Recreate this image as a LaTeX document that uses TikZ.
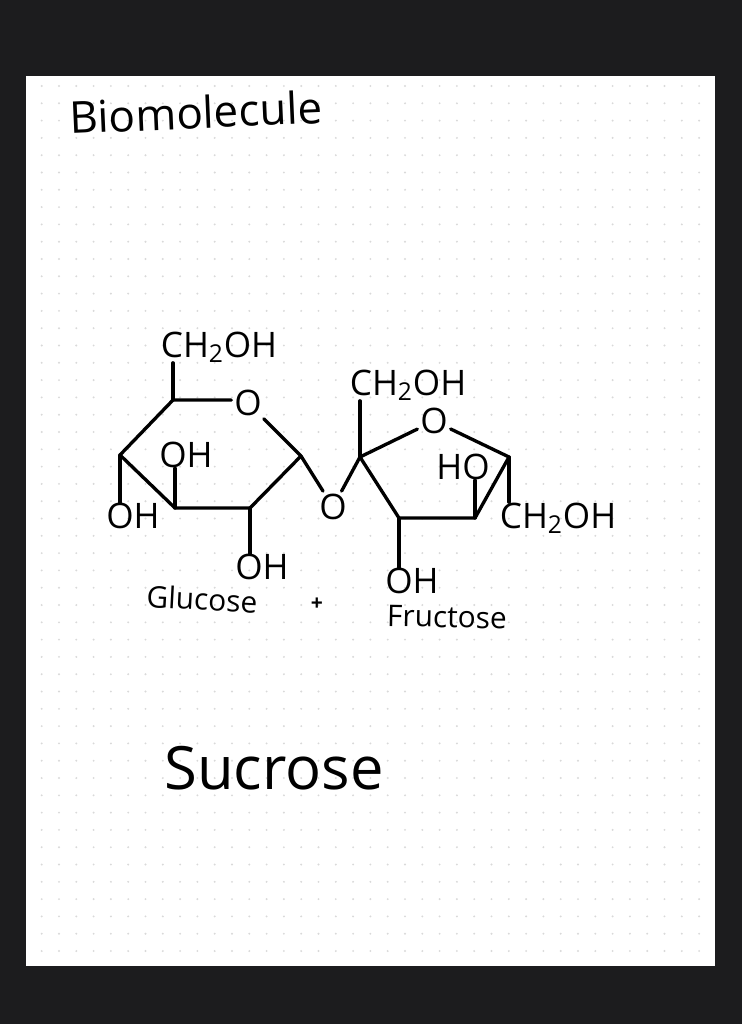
\documentclass[tikz,border=0pt]{standalone}
\usepackage{fontspec}
\setmainfont{Open Sans}
\definecolor{pagedark}{HTML}{1C1C1E}
\tikzset{
  bond/.style={line width=1.9pt, line cap=round, line join=round},
  group/.style={inner sep=0pt, font=\fontsize{20}{24}\selectfont},
  oxygen/.style={inner sep=1.5pt, font=\fontsize{20}{24}\selectfont},
  sugar/.style={inner sep=0pt, font=\fontsize{17}{20}\selectfont},
}
\begin{document}
\begin{tikzpicture}[x=0.02cm,y=-0.02cm]

  % sheet
  \fill [pagedark] (0,0) rectangle (742,1024);
  \fill [white] (26,76) rectangle (715,966);
  \foreach \i in {0,...,38} {
    \foreach \j in {0,...,50} {
      \fill [black!15] (41.7+17.3*\i,86+17.3*\j) circle (0.6pt);
    }
  }

  % titles
  \node (title) [inner sep=0pt, rotate=2.5, font=\fontsize{25}{30}\selectfont] at (196,112) {Biomolecule};
  \node (name) [inner sep=0pt, font=\fontsize{34}{40}\selectfont] at (274,768) {Sucrose};

  % glucose ring
  \coordinate (g1) at (173,400);
  \node (gO) [oxygen] at (248,403) {O};
  \coordinate (g2) at (301,456);
  \coordinate (g3) at (250,508);
  \coordinate (g4) at (175,508);
  \coordinate (g5) at (120,455);

  % fructose ring
  \coordinate (f1) at (360,457);
  \node (fO) [oxygen] at (434,421) {O};
  \coordinate (f2) at (509,457);
  \coordinate (f3) at (475,518);
  \coordinate (f4) at (399,518);

  % link
  \node (link) [oxygen] at (333,507) {O};

  % groups
  \node (gtop) [group] at (219,347) {CH\textsubscript{2}OH};
  \node (gleft) [group] at (133,516) {OH};
  \node (ginner) [group] at (186,455) {OH};
  \node (glow) [group] at (262,567) {OH};
  \node (ftop) [group] at (408,385) {CH\textsubscript{2}OH};
  \node (finner) [group] at (463,467) {HO};
  \node (fright) [group] at (558,518) {CH\textsubscript{2}OH};
  \node (flow) [group] at (412,581) {OH};

  % labels
  \node (glucose) [sugar, rotate=-3] at (202,599) {Glucose};
  \node (plus) [inner sep=0pt, font=\fontsize{12}{14}\selectfont\bfseries] at (317,604) {+};
  \node (fructose) [sugar, rotate=-1] at (447,617) {Fructose};

  % bonds
  \draw [bond] (g1 -| gO.west) -- (g1) -- (g5) -- (g4) -- (g3) -- (g2) -- (gO);
  \draw [bond] (fO) -- (f1) -- (f4) -- (f3) -- (f2) -- (fO);
  \draw [bond] (g2) -- (link);
  \draw [bond] (link) -- (f1);
  \draw [bond] (g1) -- (g1 |- gtop.south);
  \draw [bond] (g5) -- (g5 |- gleft.north);
  \draw [bond] (g4) -- (g4 |- ginner.south);
  \draw [bond] (g3) -- (g3 |- glow.north);
  \draw [bond] (f1) -- (f1 |- ftop.south);
  \draw [bond] (f3) -- (f3 |- finner.south);
  \draw [bond] (f2) -- (fright.north -| f2);
  \draw [bond] (f4) -- (f4 |- flow.north);

\end{tikzpicture}
\end{document}
